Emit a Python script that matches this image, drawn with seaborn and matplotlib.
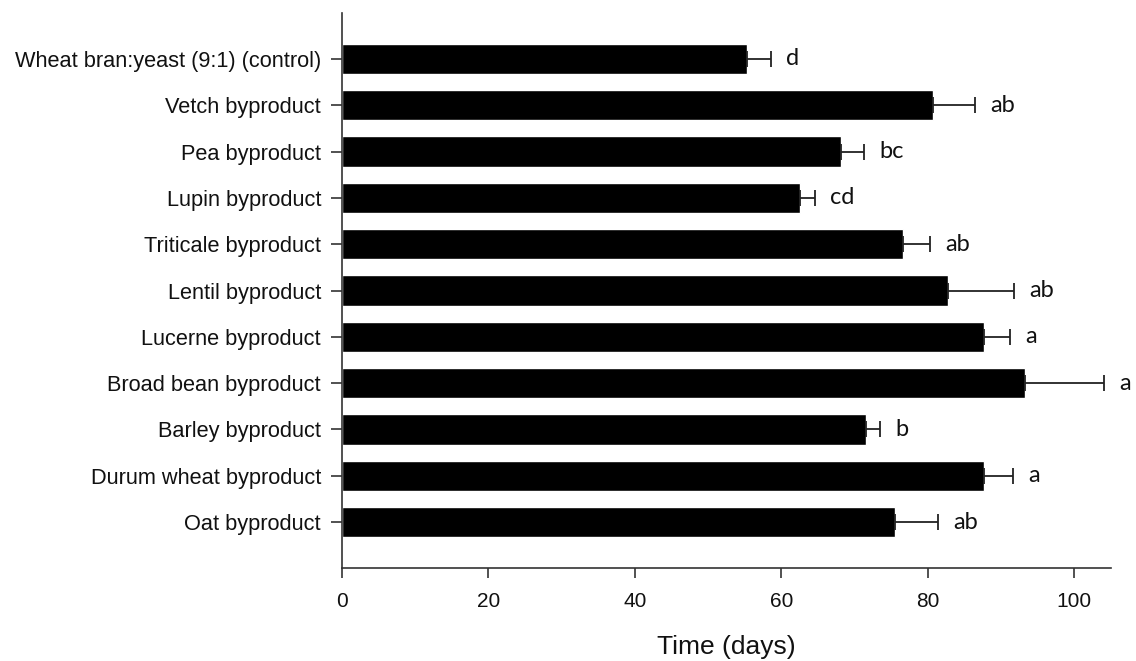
import numpy as np
import pandas as pd
import seaborn as sns
import matplotlib.pyplot as plt

categories = [
    "Wheat bran:yeast (9:1) (control)",
    "Vetch byproduct",
    "Pea byproduct",
    "Lupin byproduct",
    "Triticale byproduct",
    "Lentil byproduct",
    "Lucerne byproduct",
    "Broad bean byproduct",
    "Barley byproduct",
    "Durum wheat byproduct",
    "Oat byproduct",
]
days = [55.3, 80.7, 68.2, 62.5, 76.6, 82.8, 87.7, 93.3, 71.5, 87.7, 75.5]
errors = [3.3, 5.7, 3.1, 2.1, 3.7, 9.0, 3.5, 10.7, 2.0, 3.9, 5.9]
letters = ["d", "ab", "bc", "cd", "ab", "ab", "a", "a", "b", "a", "ab"]

df = pd.DataFrame({"treatment": categories, "days": days})

sns.set_style("ticks")
plt.rcParams["font.family"] = ["Liberation Sans", "DejaVu Sans"]

fig = plt.figure(figsize=(11.36, 6.61), dpi=100)
ax = fig.add_axes([0.301, 0.140, 0.677, 0.841])

sns.barplot(data=df, x="days", y="treatment", orient="h", color="black",
            width=0.66, errorbar=None, saturation=1, ax=ax)

pos = np.arange(len(categories))
ax.errorbar(days, pos, xerr=[np.zeros(len(errors)), errors], fmt="none",
            ecolor="#222222", elinewidth=1.3, capsize=6, capthick=1.3)

for i in range(len(categories)):
    ax.annotate(letters[i], xy=(days[i] + errors[i], pos[i]), xytext=(11, 0),
                textcoords="offset points", ha="left", va="center",
                fontsize=17, family=["Lato", "DejaVu Sans"], color="#111111")

ax.set_xlim(0, 105)
ax.set_ylim(11, -1)
ax.set_xticks([0, 20, 40, 60, 80, 100])
ax.set_xlabel("Time (days)", fontsize=19, labelpad=17, color="#111111")
ax.set_ylabel("")

sns.despine(ax=ax)
for s in ["left", "bottom"]:
    ax.spines[s].set_color("#333333")
    ax.spines[s].set_linewidth(1.2)
ax.tick_params(axis="x", labelsize=15, length=7, width=1.2, pad=10, color="#333333", labelcolor="#111111")
ax.tick_params(axis="y", labelsize=15.7, length=8, width=1.2, pad=7, color="#333333", labelcolor="#111111")

fig.savefig("out.png", dpi=100)
